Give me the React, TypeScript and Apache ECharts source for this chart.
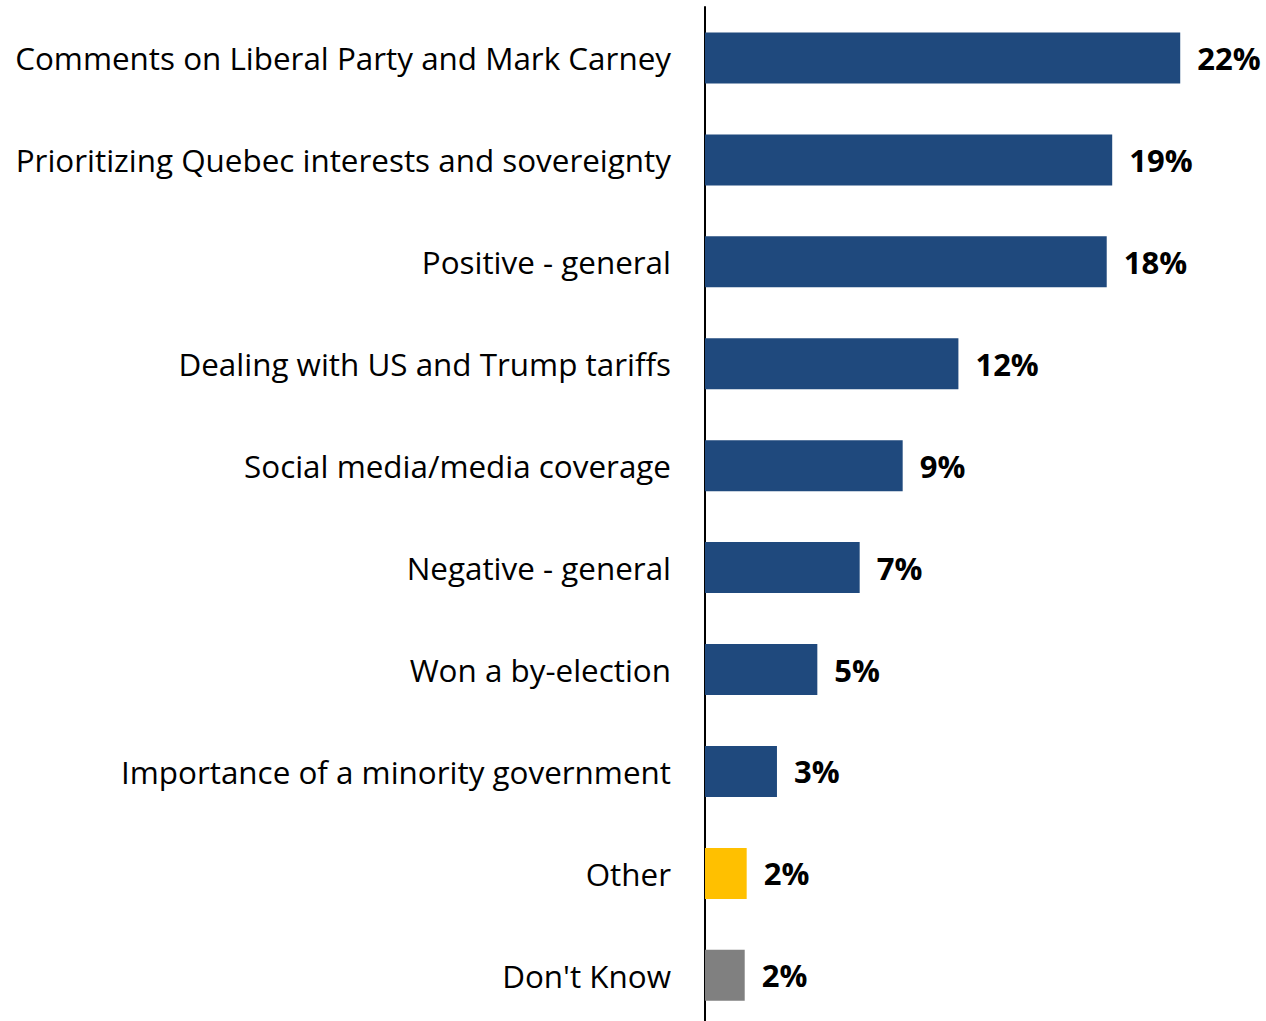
import React, { useEffect, useRef } from "react";
import * as echarts from "echarts";

const categories = [
  "Comments on Liberal Party and Mark Carney",
  "Prioritizing Quebec interests and sovereignty",
  "Positive - general",
  "Dealing with US and Trump tariffs",
  "Social media/media coverage",
  "Negative - general",
  "Won a by-election",
  "Importance of a minority government",
  "Other",
  "Don't Know",
];

const values = [21.66, 18.56, 18.31, 11.55, 9.01, 7.05, 5.12, 3.28, 1.9, 1.81];

const barColors = [
  "#1F497D",
  "#1F497D",
  "#1F497D",
  "#1F497D",
  "#1F497D",
  "#1F497D",
  "#1F497D",
  "#1F497D",
  "#FFC000",
  "#808080",
];

export default function App() {
  const ref = useRef<HTMLDivElement>(null);

  useEffect(() => {
    document.body.style.margin = "0";
    document.body.style.overflow = "hidden";
    document.documentElement.style.overflow = "hidden";
    if (!ref.current) return;
    const chart = echarts.init(ref.current, undefined, { renderer: "svg" });
    chart.setOption({
      animation: false,
      backgroundColor: "#ffffff",
      grid: {
        left: 705,
        top: 7,
        height: 1019.3,
        width: 548.5,
        containLabel: false,
      },
      xAxis: {
        type: "value",
        min: 0,
        max: 25,
        show: false,
        splitLine: { show: false },
      },
      yAxis: {
        type: "category",
        inverse: true,
        data: categories,
        axisLine: { show: true, lineStyle: { color: "#000000", width: 2 } },
        axisTick: { show: false },
        axisLabel: {
          margin: 34,
          color: "#000000",
          fontFamily: "Open Sans",
          fontSize: 31.4,
        },
      },
      series: [
        {
          type: "bar",
          barWidth: 51,
          data: values.map((v, i) => ({
            value: v,
            itemStyle: { color: barColors[i] },
          })),
          label: {
            show: true,
            position: "right",
            distance: 17,
            color: "#000000",
            fontFamily: "Open Sans",
            fontWeight: "bold",
            fontSize: 31,
            formatter: (p: any) => Math.round(p.value) + "%",
          },
        },
      ],
    });
    return () => chart.dispose();
  }, []);

  return <div ref={ref} style={{ width: 1266, height: 1030 }} />;
}
